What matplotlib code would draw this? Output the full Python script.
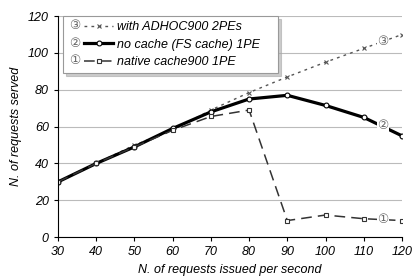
import matplotlib
matplotlib.use("Agg")
import matplotlib.pyplot as plt
import matplotlib.transforms as mtransforms
from matplotlib.legend_handler import HandlerLine2D
from matplotlib.text import Text

rate = [30, 40, 50, 60, 70, 80, 90, 100, 110, 120]
adhoc = [30, 40, 50, 58, 69, 78.5, 87, 95, 102.5, 110]
no_cache = [30, 40, 49, 59, 68, 75, 77, 71.5, 65, 55]
native = [30, 40, 49, 58, 65.5, 69, 9, 12, 10, 9]

labels = ["with ADHOC900 2PEs", "no cache (FS cache) 1PE", "native cache900 1PE"]
marks = ["\u2462", "\u2461", "\u2460"]

FONT = ["Liberation Sans", "DejaVu Sans"]
plt.rcParams["font.family"] = FONT
plt.rcParams["font.style"] = "italic"
NUMGREY = "#666666"


class NumHandler(HandlerLine2D):
    """legend handle with a circled number in front of the line sample"""
    def __init__(self, num, **kw):
        super().__init__(**kw)
        self.num = num

    def create_artists(self, legend, orig_handle, xdescent, ydescent,
                       width, height, fontsize, trans):
        off = 0.36 * width
        arts = super().create_artists(legend, orig_handle, xdescent, ydescent,
                                      width - off, height, fontsize, trans)
        shift = mtransforms.Affine2D().translate(off, 0) + trans
        for a in arts:
            a.set_transform(shift)
        t = Text(-xdescent + off * 0.42, height / 2 - ydescent, self.num,
                 fontsize=fontsize, ha="center", va="center", color=NUMGREY,
                 family=["DejaVu Sans"], style="normal")
        t.set_transform(trans)
        return arts + [t]


fig = plt.figure(figsize=(4.14, 2.78), dpi=100)
ax = fig.add_axes([0.140, 0.147, 0.831, 0.795])

l3, = ax.plot(rate, adhoc, color="#555555", lw=1.0, ls=(0, (2, 3)),
              marker="x", ms=3, mew=0.8, label=labels[0])
l2, = ax.plot(rate, no_cache, color="black", lw=2.3, ls="-",
              marker="o", ms=3.5, mfc="white", mew=0.8, label=labels[1])
l1, = ax.plot(rate, native, color="#333333", lw=1.1, ls=(0, (7, 4)),
              marker="s", ms=3.5, mfc="white", mew=0.8, label=labels[2])

ax.set_xlim(30, 120)
ax.set_ylim(0, 120)
ax.set_xticks(rate)
ax.set_yticks(range(0, 121, 20))
ax.grid(axis="y", color="#bbbbbb", lw=0.8)
ax.set_axisbelow(True)
for s in ["top", "right"]:
    ax.spines[s].set_visible(False)
ax.tick_params(labelsize=9, length=3, direction="out")
ax.set_xlabel("N. of requests issued per second", fontsize=9)
ax.set_ylabel("N. of requests served", fontsize=9)

# circled labels on the lines
bb = dict(boxstyle="square,pad=0.05", fc="white", ec="none")
for x, y, m in [(115, 106, marks[0]), (115, 60.5, marks[1]), (115, 9.5, marks[2])]:
    ax.text(x, y, m, fontsize=9, ha="center", va="center", color=NUMGREY,
            family=["DejaVu Sans"], style="normal", bbox=bb, zorder=5)

leg = ax.legend(handles=[l3, l2, l1], loc="upper left",
                bbox_to_anchor=(0.015, 0.0, 0.625, 1.0), mode="expand",
                handler_map={l3: NumHandler(marks[0]), l2: NumHandler(marks[1]),
                             l1: NumHandler(marks[2])},
                fontsize=9, frameon=True, fancybox=False,
                shadow={"color": "#aaaaaa", "alpha": 0.6},
                edgecolor="#999999", handlelength=3.6, handletextpad=0.3,
                borderpad=0.4, labelspacing=0.45, borderaxespad=0.0)
leg.get_frame().set_linewidth(0.8)

fig.savefig("out.png", dpi=100)
